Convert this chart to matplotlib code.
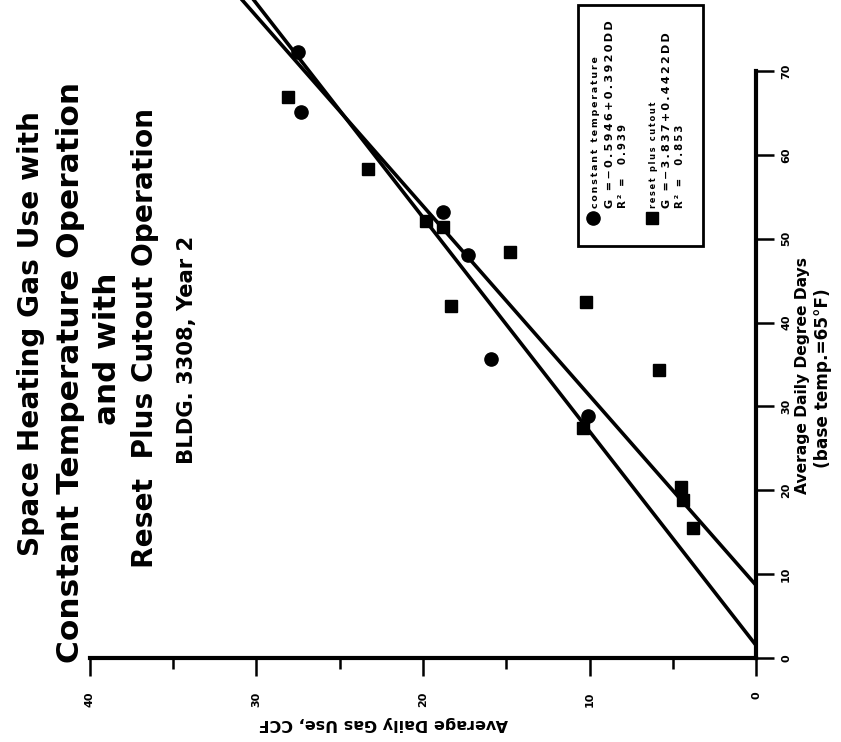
import matplotlib
matplotlib.use("Agg")
import matplotlib.pyplot as plt
from matplotlib.lines import Line2D
from matplotlib.patches import Rectangle
import numpy as np

# ---------------- data ----------------
ct_gas = [27.5, 27.3, 18.8, 17.3, 15.9, 10.1]          # constant temperature, CCF
ct_dd = [72.3, 65.1, 53.2, 48.0, 35.7, 28.9]           # degree days
rc_gas = [28.1, 23.3, 19.8, 18.8, 14.8, 18.3, 10.2, 5.8, 10.4, 4.5, 4.4, 3.8]
rc_dd = [66.9, 58.3, 52.1, 51.4, 48.4, 42.0, 42.5, 34.3, 27.4, 20.4, 18.8, 15.5]

ct_fit = (-0.5946, 0.3920)   # intercept, slope
rc_fit = (-3.837, 0.4422)

gas_ticks = [0, 10, 20, 30, 40]
gas_minor = [5, 15, 25, 35]
dd_ticks = [0, 10, 20, 30, 40, 50, 60, 70]

title_lines = ["Space Heating Gas Use with",
               "Constant Temperature Operation",
               "and with",
               "Reset  Plus Cutout Operation"]
subtitle = "BLDG. 3308, Year 2"
xlabel = "Average Daily Gas Use, CCF"
ylabel1 = "Average Daily Degree Days"
ylabel2 = "(base temp.=65\u00b0F)"
leg_ct = ["constant temperature", "G =\u22120.5946+0.3920DD", "R\u00b2 =  0.939"]
leg_rc = ["reset plus cutout", "G =\u22123.837+0.4422DD", "R\u00b2 =  0.853"]

# ---------------- figure ----------------
W, H = 841, 742
fig = plt.figure(figsize=(W / 100, H / 100), dpi=100)
fig.patch.set_facecolor("white")
renderer = fig.canvas.get_renderer()


def fx(px):
    return px / W


def fy(py):
    return 1 - py / H


def fit_length(t, target):
    """Scale the font size of a rotated text so its long side is `target` px."""
    for _ in range(3):
        bb = t.get_window_extent(renderer)
        L = max(bb.width, bb.height)
        t.set_fontsize(t.get_fontsize() * target / L)


def spaced(s):
    return "\u2009".join(s)


x_left, x_right, y_bottom = 90, 756, 658
px_per_dd = 8.386
ax = fig.add_axes([fx(x_left), fy(y_bottom), fx(x_right) - fx(x_left), y_bottom / H])
ax.set_facecolor("none")
ax.set_xlim(40, 0)
ax.set_ylim(0, y_bottom / px_per_dd)

# regression lines (chart rotated: gas on horizontal, degree days vertical)
top_dd = y_bottom / px_per_dd + 2
for b0, b1 in (ct_fit, rc_fit):
    dd = np.array([-b0 / b1, top_dd])
    ax.plot(b0 + b1 * dd, dd, color="black", lw=2.6, solid_capstyle="butt")

ax.plot(ct_gas, ct_dd, "o", color="black", ms=9.5, zorder=3)
ax.plot(rc_gas, rc_dd, "s", color="black", ms=9, zorder=3)

for s in ("left", "top"):
    ax.spines[s].set_visible(False)
ax.spines["bottom"].set_linewidth(3)
ax.spines["bottom"].set_bounds(0, 40)
ax.spines["right"].set_linewidth(3)
ax.spines["right"].set_bounds(0, 70)
ax.yaxis.tick_right()

ax.set_xticks(gas_ticks)
ax.set_xticks(gas_minor, minor=True)
ax.set_yticks(dd_ticks)
ax.tick_params(axis="x", which="major", direction="out", length=13, width=1.8,
               pad=11, labelsize=8, labelrotation=90)
ax.tick_params(axis="x", which="minor", direction="out", length=8, width=1.8)
ax.tick_params(axis="y", which="major", direction="out", length=13, width=1.8,
               pad=5, labelsize=8, labelrotation=90)
for lbl in ax.get_xticklabels():
    lbl.set_fontweight("bold")
for lbl in ax.get_yticklabels():
    lbl.set_fontweight("bold")
    lbl.set_va("center")

# axis labels
t = fig.text(fx(383), fy(723), xlabel, rotation=180, ha="center", va="center",
             fontsize=11, fontweight="bold")
fit_length(t, 250)
t = fig.text(fx(803), fy(375), ylabel1, rotation=90, ha="center", va="center",
             fontsize=11, fontweight="bold")
fit_length(t, 237)
t = fig.text(fx(823), fy(378), ylabel2, rotation=90, ha="center", va="center",
             fontsize=11, fontweight="bold")
fit_length(t, 180)

# title (rotated with the page)
title_pos = [(31, 333), (71, 372), (107, 349), (145, 338)]
title_len = [445, 582, 152, 460]
for line, (px, py), L in zip(title_lines, title_pos, title_len):
    t = fig.text(fx(px), fy(py), line, rotation=90, ha="center", va="center",
                 fontsize=22.5, fontweight="bold", family="DejaVu Sans")
    fit_length(t, L)
t = fig.text(fx(187), fy(350), subtitle, rotation=90, ha="center", va="center",
             fontsize=14, fontweight="bold")
fit_length(t, 229)

# legend box
fig.add_artist(Rectangle((fx(578), fy(246)), fx(703) - fx(578), fy(5) - fy(246),
                         transform=fig.transFigure, fill=False, lw=2, ec="black"))
fig.add_artist(Line2D([fx(593)], [fy(218)], marker="o", ms=9.5, color="black",
                      transform=fig.transFigure))
fig.add_artist(Line2D([fx(652)], [fy(218)], marker="s", ms=9, color="black",
                      transform=fig.transFigure))
leg_len_ct = (152, 187, 85)
leg_len_rc = (107, 175, 85)
for lines, xs, lens in ((leg_ct, (596, 610, 623), leg_len_ct),
                        (leg_rc, (653, 667, 680), leg_len_rc)):
    for line, px, L in zip(lines, xs, lens):
        t = fig.text(fx(px), fy(208), spaced(line), rotation=90, ha="center",
                     va="bottom", fontsize=7.5, fontweight="bold",
                     family="DejaVu Sans")
        fit_length(t, L)

fig.savefig("out.png", dpi=100, facecolor="white")
